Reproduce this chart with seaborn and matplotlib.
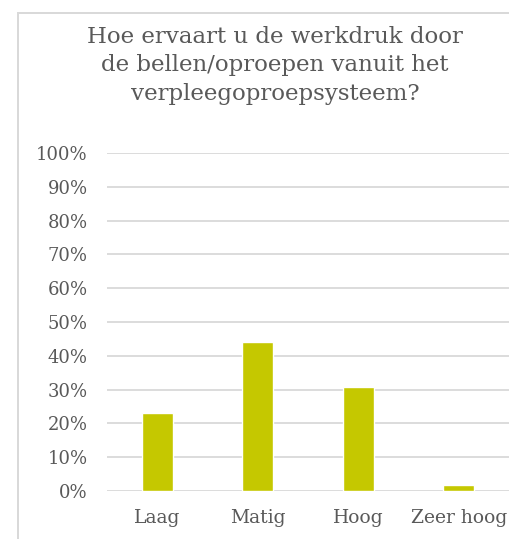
import matplotlib
matplotlib.use("Agg")
import matplotlib.pyplot as plt
import seaborn as sns
import pandas as pd
from matplotlib.patches import Rectangle
from matplotlib.ticker import PercentFormatter

categories = ["Laag", "Matig", "Hoog", "Zeer hoog"]
values = [0.231, 0.442, 0.308, 0.019]
yticks = [0, 0.1, 0.2, 0.3, 0.4, 0.5, 0.6, 0.7, 0.8, 0.9, 1.0]
title = "Hoe ervaart u de werkdruk door\nde bellen/oproepen vanuit het\nverpleegoproepsysteem?"

sns.set_theme(style="white")
plt.rcParams['font.family'] = ['DejaVu Serif']

df = pd.DataFrame({"cat": categories, "val": values})

fig = plt.figure(figsize=(5.13, 5.39), dpi=100)
ax = fig.add_axes([107/513, 48/539, 402/513, 338/539])

sns.barplot(data=df, x="cat", y="val", color="#c5c800", width=0.31,
            saturation=1, ax=ax, zorder=3)

ax.set_ylim(0, 1.0)
ax.set_xlim(-0.5, 3.5)
ax.set_yticks(yticks)
ax.yaxis.set_major_formatter(PercentFormatter(1.0, decimals=0))
ax.grid(axis="y", color="#d9d9d9", linewidth=1.3, zorder=0)
ax.set_axisbelow(True)
for s in ax.spines.values():
    s.set_visible(False)
ax.set_xlabel("")
ax.set_ylabel("")
ax.tick_params(axis="y", length=0, pad=14, labelsize=13, labelcolor="#595959")
ax.tick_params(axis="x", length=0, pad=13, labelsize=13.5, labelcolor="#595959")

fig.text(275/513, 1 - 26/539, title, ha="center", va="top", fontsize=16.5,
         color="#595959", linespacing=1.38)

W, H = 513, 539
fig.patches.append(Rectangle((17/W, 1 - 14/H), 492/W, 2/H,
                             transform=fig.transFigure, facecolor="#d9d9d9",
                             edgecolor="none", linewidth=0))
fig.patches.append(Rectangle((17/W, 0), 2/W, 1 - 12/H,
                             transform=fig.transFigure, facecolor="#d9d9d9",
                             edgecolor="none", linewidth=0))

fig.savefig("out.png", dpi=100, facecolor="white", edgecolor="none")
